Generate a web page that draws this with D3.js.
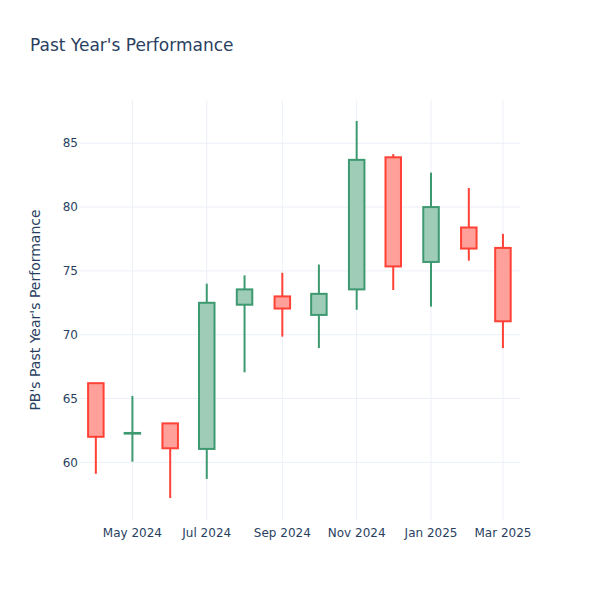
<!DOCTYPE html>
<html>
<head>
<meta charset="utf-8">
<script src="https://cdn.jsdelivr.net/npm/d3@7"></script>
<style>
  html, body { margin: 0; padding: 0; background: #fff; }
  svg { display: block; font-family: "DejaVu Sans", "Open Sans", Verdana, sans-serif; }
</style>
</head>
<body>
<div id="chart"></div>
<script>
// ---- data ----
const dates  = ["2024-04-01","2024-05-01","2024-06-01","2024-07-01","2024-08-01","2024-09-01",
                "2024-10-01","2024-11-01","2024-12-01","2025-01-01","2025-02-01","2025-03-01"];
const opens  = [66.2, 62.25, 63.05, 61.05, 72.35, 73.0, 71.55, 73.55, 83.9, 75.7, 78.4, 76.8];
const highs  = [66.2, 65.2, 63.05, 74.0, 74.65, 74.85, 75.5, 86.75, 84.15, 82.7, 81.5, 77.9];
const lows   = [59.1, 60.05, 57.2, 58.7, 67.05, 69.85, 68.95, 71.95, 73.5, 72.2, 75.8, 68.95];
const closes = [62.0, 62.3, 61.1, 72.5, 73.55, 72.05, 73.2, 83.7, 75.35, 80.0, 76.75, 71.05];
const yTicks = [60, 65, 70, 75, 80, 85];
const xTickDates = ["2024-05-01","2024-07-01","2024-09-01","2024-11-01","2025-01-01","2025-03-01"];
const xTickLabels = ["May 2024","Jul 2024","Sep 2024","Nov 2024","Jan 2025","Mar 2025"];
const titleText = "Past Year's Performance";
const yTitleText = "PB's Past Year's Performance";

// ---- layout ----
const W = 600, H = 600;
const m = {l: 80, r: 80, t: 100, b: 80};
const parse = d3.timeParse("%Y-%m-%d");
const data = dates.map((d, i) => ({date: parse(d), o: opens[i], h: highs[i], l: lows[i], c: closes[i]}));

const x = d3.scaleTime()
  .domain([parse("2024-03-19"), parse("2025-03-15")])
  .range([m.l, W - m.r]);
const y = d3.scaleLinear()
  .domain([55.48, 88.39])
  .range([H - m.b, m.t]);

const svg = d3.select("#chart").append("svg").attr("width", W).attr("height", H);
svg.append("rect").attr("width", W).attr("height", H).attr("fill", "#fff");

const gridColor = "#EBF0F8";
const textColor = "#2a3f5f";

// grid
svg.append("g").selectAll("line").data(yTicks).join("line")
  .attr("x1", m.l).attr("x2", W - m.r)
  .attr("y1", d => y(d)).attr("y2", d => y(d))
  .attr("stroke", gridColor).attr("stroke-width", 1);
svg.append("g").selectAll("line").data(xTickDates).join("line")
  .attr("x1", d => x(parse(d))).attr("x2", d => x(parse(d)))
  .attr("y1", m.t).attr("y2", H - m.b)
  .attr("stroke", gridColor).attr("stroke-width", 1);

// y tick labels
svg.append("g").selectAll("text").data(yTicks).join("text")
  .attr("x", m.l - 2).attr("y", d => y(d)).attr("dy", "0.35em")
  .attr("text-anchor", "end").attr("font-size", 12).attr("fill", textColor)
  .text(d => d);

// x tick labels
svg.append("g").selectAll("text").data(xTickDates).join("text")
  .attr("x", d => x(parse(d))).attr("y", H - m.b + 13).attr("dy", "0.35em")
  .attr("text-anchor", "middle").attr("font-size", 12).attr("fill", textColor)
  .text((d, i) => xTickLabels[i]);

// candles
const inc = {line: "#3D9970", fill: "rgba(61,153,112,0.5)"};
const dec = {line: "#FF4136", fill: "rgba(255,65,54,0.5)"};
const bw = 15.5;
const cg = svg.append("g").selectAll("g").data(data).join("g");
cg.append("line")
  .attr("x1", d => x(d.date)).attr("x2", d => x(d.date))
  .attr("y1", d => y(d.h)).attr("y2", d => y(d.l))
  .attr("stroke", d => d.c >= d.o ? inc.line : dec.line).attr("stroke-width", 2);
cg.append("rect")
  .attr("x", d => x(d.date) - bw / 2).attr("width", bw)
  .attr("y", d => y(Math.max(d.o, d.c)))
  .attr("height", d => Math.max(0.01, y(Math.min(d.o, d.c)) - y(Math.max(d.o, d.c))))
  .attr("fill", "#fff")
  .attr("stroke", "none");
cg.append("rect")
  .attr("x", d => x(d.date) - bw / 2).attr("width", bw)
  .attr("y", d => y(Math.max(d.o, d.c)))
  .attr("height", d => Math.max(0.01, y(Math.min(d.o, d.c)) - y(Math.max(d.o, d.c))))
  .attr("fill", d => d.c >= d.o ? inc.fill : dec.fill)
  .attr("stroke", d => d.c >= d.o ? inc.line : dec.line).attr("stroke-width", 2);

// titles
svg.append("text").attr("x", 30).attr("y", 51)
  .attr("font-size", 17).attr("fill", textColor).text(titleText);
svg.append("text")
  .attr("transform", `translate(40,${(m.t + H - m.b) / 2}) rotate(-90)`)
  .attr("text-anchor", "middle").attr("font-size", 14).attr("fill", textColor)
  .text(yTitleText);
</script>
</body>
</html>
